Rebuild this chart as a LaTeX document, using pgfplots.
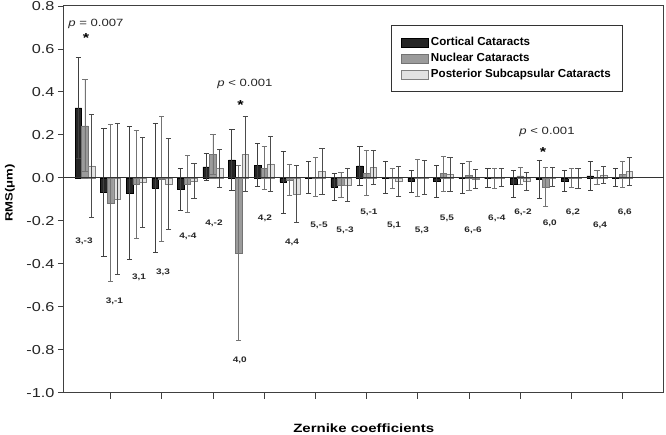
\documentclass[border=0pt]{standalone}
\usepackage{pgfplots}
\usepackage{pgfplotstable}
\pgfplotsset{compat=1.18}
\usepackage{fontspec}
\setmainfont{Liberation Sans}[FakeStretch=1.25]
\newfontfamily\legfont{Liberation Sans}

\definecolor{cA}{HTML}{262626}
\definecolor{cB}{HTML}{9B9B9B}
\definecolor{cC}{HTML}{E2E2E2}

\pgfplotstableread{
i  C       Ce     N       Ne     P       Pe
0  0.326   0.234  0.242   0.214  0.056   0.241
1  -0.068  0.300  -0.118  0.365  -0.098  0.350
2  -0.071  0.310  -0.030  0.250  -0.020  0.210
3  -0.048  0.300  -0.006  0.290  -0.028  0.210
4  -0.053  0.097  -0.029  0.132  -0.014  0.080
5  0.051   0.062  0.110   0.092  0.045   0.089
6  0.084   0.142  -0.350  0.407  0.110   0.175
7  0.059   0.101  0.045   0.100  0.065   0.128
8  -0.020  0.145  -0.009  0.072  -0.076  0.133
9  0.003   0.075  0.004   0.091  0.030   0.105
10 -0.043  0.062  -0.033  0.057  -0.033  0.079
11 0.056   0.091  0.022   0.104  0.048   0.078
12 0.001   0.075  -0.003  0.048  -0.017  0.068
13 -0.017  0.051  0.000   0.085  0.001   0.078
14 -0.017  0.073  0.020   0.081  0.015   0.080
15 -0.003  0.068  0.010   0.067  -0.005  0.046
16 0.000   0.043  -0.002  0.047  0.002   0.042
17 -0.028  0.062  0.009   0.041  -0.017  0.040
18 -0.006  0.088  -0.043  0.091  0.004   0.044
19 -0.014  0.047  -0.002  0.044  -0.003  0.045
20 0.009   0.068  0.001   0.033  0.014   0.041
21 0.002   0.044  0.017   0.061  0.030   0.066
}\datatable

\tikzset{catlab/.style={font=\fontsize{8}{9}\selectfont\bfseries, text=black!85, inner sep=0pt}}

\begin{document}
\begin{tikzpicture}
\useasboundingbox (-64pt,-41.3pt) rectangle (602pt,392.7pt);
\begin{axis}[
  scale only axis, width=599.5pt, height=386.7pt,
  at={(0pt,0pt)}, anchor=south west,
  xmin=-0.82, xmax=22.6, ymin=-1.0, ymax=0.8,
  ytick={-1,-0.8,-0.6,-0.4,-0.2,0,0.2,0.4,0.6,0.8},
  xtick={1,3,5,7,9,11,13,15,17,19,21}, xticklabels={},
  tick align=outside, tick pos=left, major tick length=6pt,
  tick style={line width=0.9pt, color=black!75},
  axis line style={line width=1pt, color=black!75},
  yticklabel style={/pgf/number format/.cd, fixed, fixed zerofill, precision=1, assume math mode=true},
  tick label style={font=\fontsize{13}{14}\selectfont, text=black!85},
  ylabel={\bfseries RMS(μm)},
  ylabel style={at={(axis description cs:-0.0901,0.516)}, anchor=center, font=\fontsize{10.5}{12}\selectfont},
  xlabel={\bfseries Zernike coefficients},
  xlabel style={at={(axis description cs:0.5,-0.0913)}, anchor=center, font=\fontsize{12}{14}\selectfont},
  legend image code/.code={\draw[#1] (0pt,-4.5pt) rectangle (27pt,4.5pt);},
  legend cell align=left,
  legend style={at={(rel axis cs:0.5455,0.9509)}, anchor=north west, draw=black!80, line width=0.8pt,
    inner xsep=10pt, inner ysep=9pt,
    font=\legfont\bfseries\fontsize{11.6}{13}\selectfont,
    nodes={text height=8.5pt, text depth=3pt, inner ysep=2.3pt, inner xsep=2pt},
    /tikz/every even column/.append style={column sep=6pt}},
  clip=false,
]
\addplot[ybar, bar width=0.26, bar shift=0, fill=cA, draw=black, line width=0.5pt,
  error bars/.cd, y dir=both, y explicit,
  error bar style={line width=0.9pt, color=black!75},
  error mark options={rotate=90, line width=0.9pt, mark size=2.6pt, color=black!75}]
  table[x expr=\thisrow{i}-0.26, y=C, y error=Ce] {\datatable};
\addlegendentry{Cortical Cataracts}
\addplot[ybar, bar width=0.26, bar shift=0, fill=cB, draw=black!55, line width=0.5pt,
  error bars/.cd, y dir=both, y explicit,
  error bar style={line width=0.9pt, color=black!55},
  error mark options={rotate=90, line width=0.9pt, mark size=2.6pt, color=black!55}]
  table[x=i, y=N, y error=Ne] {\datatable};
\addlegendentry{Nuclear Cataracts}
\addplot[ybar, bar width=0.26, bar shift=0, fill=cC, draw=black!50, line width=0.5pt,
  error bars/.cd, y dir=both, y explicit,
  error bar style={line width=0.9pt, color=black!70},
  error mark options={rotate=90, line width=0.9pt, mark size=2.6pt, color=black!70}]
  table[x expr=\thisrow{i}+0.26, y=P, y error=Pe] {\datatable};
\addlegendentry{Posterior Subcapsular Cataracts}
\addplot[black!80, line width=1pt, forget plot] coordinates {(-0.82,0) (22.6,0)};

% category labels
\node[catlab] at (axis cs:-0.04,-0.297) {3,-3};
\node[catlab] at (axis cs:1.15,-0.576) {3,-1};
\node[catlab] at (axis cs:2.11,-0.461) {3,1};
\node[catlab] at (axis cs:3.05,-0.438) {3,3};
\node[catlab] at (axis cs:4.02,-0.274) {4,-4};
\node[catlab] at (axis cs:5.04,-0.211) {4,-2};
\node[catlab] at (axis cs:6.05,-0.848) {4,0};
\node[catlab] at (axis cs:7.03,-0.188) {4,2};
\node[catlab] at (axis cs:8.09,-0.302) {4,4};
\node[catlab] at (axis cs:9.14,-0.219) {5,-5};
\node[catlab] at (axis cs:10.16,-0.246) {5,-3};
\node[catlab] at (axis cs:11.09,-0.160) {5,-1};
\node[catlab] at (axis cs:12.07,-0.219) {5,1};
\node[catlab] at (axis cs:13.16,-0.246) {5,3};
\node[catlab] at (axis cs:14.14,-0.188) {5,5};
\node[catlab] at (axis cs:15.16,-0.246) {6,-6};
\node[catlab] at (axis cs:16.09,-0.188) {6,-4};
\node[catlab] at (axis cs:17.11,-0.162) {6,-2};
\node[catlab] at (axis cs:18.16,-0.211) {6,0};
\node[catlab] at (axis cs:19.06,-0.162) {6,2};
\node[catlab] at (axis cs:20.12,-0.219) {6,4};
\node[catlab] at (axis cs:21.09,-0.162) {6,6};

\node[font=\fontsize{10.5}{12}\selectfont, text=black!85, inner sep=0pt] at (axis cs:0.43,0.716) {\textit{p} = 0.007};
\node[font=\fontsize{13}{14}\selectfont\bfseries, inner sep=0pt, anchor=base] at (axis cs:0.04,0.630) {*};
\node[font=\fontsize{10.5}{12}\selectfont, text=black!85, inner sep=0pt] at (axis cs:6.25,0.437) {\textit{p} < 0.001};
\node[font=\fontsize{13}{14}\selectfont\bfseries, inner sep=0pt, anchor=base] at (axis cs:6.08,0.320) {*};
\node[font=\fontsize{10.5}{12}\selectfont, text=black!85, inner sep=0pt] at (axis cs:18.05,0.215) {\textit{p} < 0.001};
\node[font=\fontsize{13}{14}\selectfont\bfseries, inner sep=0pt, anchor=base] at (axis cs:17.89,0.100) {*};
\end{axis}
\end{tikzpicture}
\end{document}
